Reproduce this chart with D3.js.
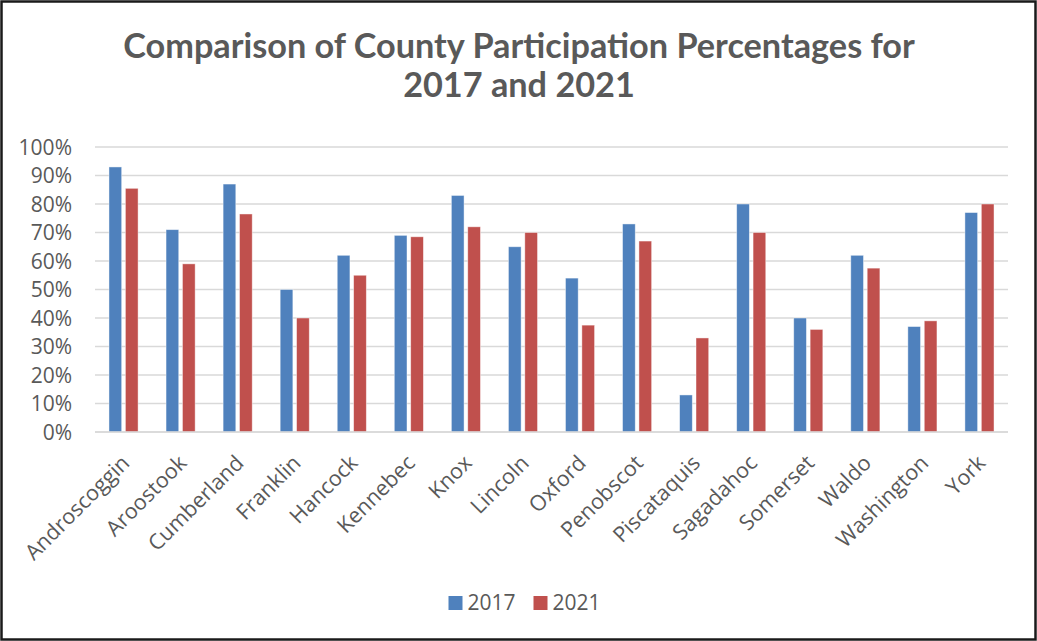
<!DOCTYPE html>
<html>
<head>
<meta charset="utf-8">
<script src="https://cdn.jsdelivr.net/npm/d3@7"></script>
<style>
  html, body { margin: 0; padding: 0; background: #fff; }
  svg { display: block; }
</style>
</head>
<body>
<svg id="chart" width="1037" height="641"></svg>
<script>
const titleLines = ["Comparison of County Participation Percentages for", "2017 and 2021"];
const counties = ["Androscoggin", "Aroostook", "Cumberland", "Franklin", "Hancock", "Kennebec", "Knox", "Lincoln", "Oxford", "Penobscot", "Piscataquis", "Sagadahoc", "Somerset", "Waldo", "Washington", "York"];
const seriesNames = ["2017", "2021"];
const values2017 = [0.93, 0.71, 0.87, 0.50, 0.62, 0.69, 0.83, 0.65, 0.54, 0.73, 0.13, 0.80, 0.40, 0.62, 0.37, 0.77];
const values2021 = [0.855, 0.59, 0.765, 0.40, 0.55, 0.685, 0.72, 0.70, 0.375, 0.67, 0.33, 0.70, 0.36, 0.575, 0.39, 0.80];
const yTicks = [0, 0.1, 0.2, 0.3, 0.4, 0.5, 0.6, 0.7, 0.8, 0.9, 1.0];
const colors = ["#4f81bd", "#c0504d"];

const svg = d3.select("#chart");
const W = 1037, H = 641;
const plot = { left: 95, right: 1008, top: 147, bottom: 432 };
const textColor = "#595959";
const font = "'Open Sans', sans-serif";

// frame
svg.append("rect").attr("x", 1.5).attr("y", 1.5).attr("width", W - 3).attr("height", H - 3)
  .attr("fill", "#fff").attr("stroke", "#1a1a1a").attr("stroke-width", 2.5);

// title
const title = svg.append("g");
titleLines.forEach((t, i) => {
  title.append("text")
    .attr("x", 519).attr("y", 58 + i * 39)
    .attr("text-anchor", "middle")
    .attr("font-family", "Lato, 'Open Sans', sans-serif")
    .attr("font-weight", "bold")
    .attr("font-size", 30)
    .attr("fill", textColor)
    .text(t);
});
(function fit() {
  const first = title.select("text").node();
  const w = first.getComputedTextLength();
  if (w > 0) {
    const fs = 30 * 792 / w;
    title.selectAll("text").attr("font-size", fs);
  }
})();

const x0 = d3.scaleBand().domain(counties).range([plot.left, plot.right]).paddingInner(0).paddingOuter(0);
const x1 = d3.scaleBand().domain(seriesNames).range([-14.55, 14.55]).paddingInner(0.2256).paddingOuter(0);
const y = d3.scaleLinear().domain([0, 1]).range([plot.bottom, plot.top]);

// gridlines
svg.append("g").selectAll("line").data(yTicks).join("line")
  .attr("x1", plot.left).attr("x2", plot.right)
  .attr("y1", d => y(d)).attr("y2", d => y(d))
  .attr("stroke", "#d9d9d9").attr("stroke-width", 1.5);

// y axis labels
const yAxis = d3.axisLeft(y).tickValues(yTicks).tickFormat(d3.format(".0%")).tickSize(0).tickPadding(0);
const yg = svg.append("g").attr("transform", `translate(72,0)`).call(yAxis);
yg.select(".domain").remove();
yg.selectAll("text").attr("font-family", font).attr("font-size", 21).attr("fill", textColor).attr("dy", "0.35em");

// bars
const data = counties.map((c, i) => ({ county: c, vals: [values2017[i], values2021[i]] }));
const groups = svg.append("g").selectAll("g").data(data).join("g")
  .attr("transform", d => `translate(${x0(d.county) + x0.bandwidth() / 2},0)`);
groups.selectAll("rect").data(d => d.vals.map((v, j) => ({ v, s: seriesNames[j], j }))).join("rect")
  .attr("x", d => x1(d.s))
  .attr("width", x1.bandwidth())
  .attr("y", d => y(d.v))
  .attr("height", d => y(0) - y(d.v))
  .attr("fill", d => colors[d.j])
  .attr("stroke", "rgba(255,255,255,0.55)")
  .attr("stroke-width", 0.8);

// x axis labels
const xAxis = d3.axisBottom(x0).tickSize(0).tickPadding(0);
const xg = svg.append("g").call(xAxis);
xg.select(".domain").remove();
xg.selectAll(".tick").attr("transform", d => `translate(${x0(d) + x0.bandwidth() / 2 + 2},459)`);
xg.selectAll("text")
  .attr("font-family", font).attr("font-size", 21.5).attr("fill", textColor)
  .attr("text-anchor", "end")
  .attr("x", 0).attr("y", 0).attr("dy", "0.35em")
  .attr("transform", "rotate(-45)");

// baseline axis line
svg.append("line").attr("x1", plot.left).attr("x2", plot.right)
  .attr("y1", y(0)).attr("y2", y(0)).attr("stroke", "#d9d9d9").attr("stroke-width", 1.5);

// legend
const legendItems = [{ name: "2017", x: 448.5 }, { name: "2021", x: 533.5 }];
const lg = svg.append("g");
legendItems.forEach((it, i) => {
  lg.append("rect").attr("x", it.x).attr("y", 596).attr("width", 14).attr("height", 14).attr("fill", colors[i]);
  lg.append("text").attr("x", it.x + 19).attr("y", 603).attr("dy", "0.35em")
    .attr("font-family", font).attr("font-size", 21).attr("fill", textColor).text(it.name);
});
</script>
</body>
</html>
